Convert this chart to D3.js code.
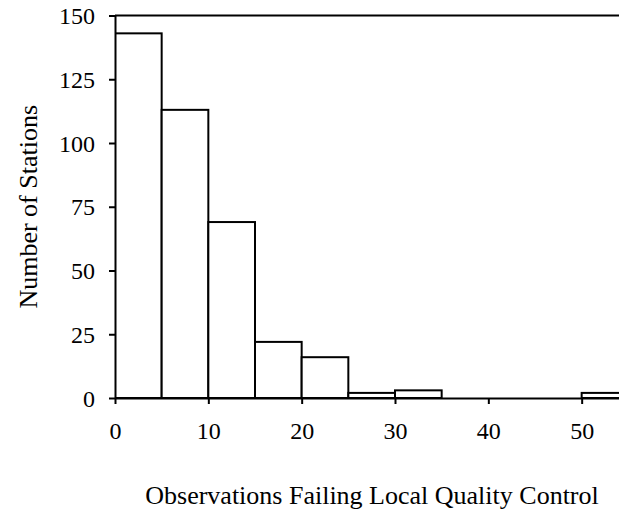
<!DOCTYPE html>
<html>
<head>
<meta charset="utf-8">
<script src="https://cdn.jsdelivr.net/npm/d3@7/dist/d3.min.js"></script>
<style>
  html, body { margin: 0; padding: 0; background: #fff; }
  svg text { font-family: "Liberation Serif", "Times New Roman", serif; fill: #000; }
</style>
</head>
<body>
<svg id="chart" width="619" height="514"></svg>
<script>
// Histogram bins (lower edge, upper edge) and station counts
const binStarts = [0, 5, 10, 15, 20, 25, 30, 35, 40, 45, 50];
const binEnds   = [5, 10, 15, 20, 25, 30, 35, 40, 45, 50, 55];
const counts    = [143, 113, 69, 22, 16, 2, 3, 0, 0, 0, 2];
const xTicks = [0, 10, 20, 30, 40, 50];
const yTicks = [0, 25, 50, 75, 100, 125, 150];

const svg = d3.select("#chart");
const margin = { left: 115, right: 0, top: 15.5, bottom: 116 };
const W = 619, H = 514;

const x = d3.scaleLinear().domain([0, 54]).range([margin.left, W - margin.right]);
const y = d3.scaleLinear().domain([0, 150]).range([H - margin.bottom, margin.top]);

const bins = binStarts.map((s, i) => ({ x0: s, x1: binEnds[i], n: counts[i] }));

// bars, clipped to the plotting area
svg.append("clipPath").attr("id", "plotClip")
  .append("rect")
  .attr("x", x(0)).attr("y", 0)
  .attr("width", W - x(0)).attr("height", H);

svg.append("g").attr("clip-path", "url(#plotClip)")
  .selectAll("rect").data(bins).join("rect")
  .attr("x", d => x(d.x0))
  .attr("y", d => y(d.n))
  .attr("width", d => x(d.x1) - x(d.x0))
  .attr("height", d => y(0) - y(d.n))
  .attr("fill", "#fff")
  .attr("stroke", "#000")
  .attr("stroke-width", 2);

// top frame line
svg.append("line")
  .attr("x1", x(0)).attr("x2", W)
  .attr("y1", y(150)).attr("y2", y(150))
  .attr("stroke", "#000").attr("stroke-width", 2);

// y axis
const yAxis = svg.append("g")
  .attr("transform", `translate(${x(0)},0)`)
  .call(d3.axisLeft(y).tickValues(yTicks).tickSize(6).tickSizeOuter(0).tickPadding(14));
yAxis.select(".domain").attr("stroke-width", 2);
yAxis.selectAll(".tick line").attr("stroke-width", 2);
yAxis.selectAll(".tick text")
  .attr("font-size", 24)
  .attr("font-family", "Liberation Serif, serif")
  .attr("dy", "0.34em");

// x axis
const xAxis = svg.append("g")
  .attr("transform", `translate(0,${y(0)})`)
  .call(d3.axisBottom(x).tickValues(xTicks).tickSize(6).tickSizeOuter(0).tickPadding(18));
xAxis.select(".domain").attr("stroke-width", 2);
xAxis.selectAll(".tick line").attr("stroke-width", 2);
xAxis.selectAll(".tick text")
  .attr("font-size", 24)
  .attr("font-family", "Liberation Serif, serif");

// axis titles
svg.append("text")
  .attr("transform", `translate(37,${(y(0) + y(150)) / 2}) rotate(-90)`)
  .attr("text-anchor", "middle")
  .attr("font-size", 26)
  .text("Number of Stations");

svg.append("text")
  .attr("x", 372).attr("y", 504)
  .attr("text-anchor", "middle")
  .attr("font-size", 26)
  .text("Observations Failing Local Quality Control");
</script>
</body>
</html>
